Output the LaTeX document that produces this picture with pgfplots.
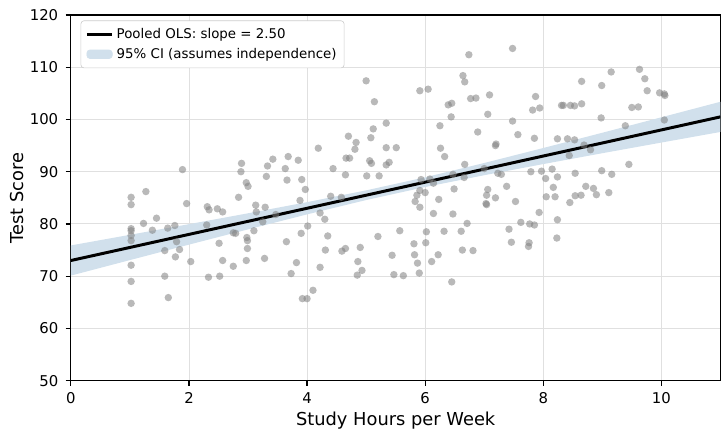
\documentclass[border=0pt]{standalone}
\usepackage{fontspec}
\setmainfont{DejaVu Sans}
\usepackage{pgfplots}
\pgfplotsset{compat=1.18}
\definecolor{cifill}{RGB}{209,224,236}
\begin{document}
\begin{tikzpicture}
\begin{axis}[
  scale only axis, width=437pt, height=246pt,
  xmin=0, xmax=11, ymin=50, ymax=120,
  xtick={0,2,...,10}, ytick={50,60,...,120},
  tick align=outside, tick pos=left,
  major tick length=3.5pt,
  grid=major, major grid style={draw=black!12, line width=0.6pt},
  axis line style={line width=0.8pt},
  every tick/.style={black, line width=0.8pt},
  tick label style={font=\fontsize{10}{12}\selectfont},
  yticklabel style={xshift=-1.5pt},
  xticklabel style={yshift=-1pt},
  /pgf/number format/assume math mode=true,
  label style={font=\fontsize{12}{14}\selectfont},
  xlabel={Study Hours per Week}, ylabel={Test Score},
  xlabel style={yshift=1.5pt},
  ylabel style={yshift=-2.8pt},
  legend style={at={(0.015,0.985)}, anchor=north west, draw=black!20,
    rounded corners=2pt, font=\fontsize{9}{11}\selectfont,
    row sep=1pt, inner sep=3pt},
  legend cell align=left,
]
\coordinate (tl) at (rel axis cs:0,1);
% 95% CI band
\addplot[fill=cifill, draw=none, forget plot] coordinates {
  (0,70.11) (1,73.08) (2,76.04) (3,78.96) (4,81.83) (5,84.57) (6,87.07)
  (7,89.33) (8,91.46) (9,93.54) (10,95.58) (11,97.61)
  (11,103.39) (10,100.42) (9,97.46) (8,94.54) (7,91.67) (6,88.93) (5,86.43)
  (4,84.17) (3,82.04) (2,79.96) (1,77.92) (0,75.89)
} -- cycle;
% observations
\addplot[only marks, mark=*, mark size=2.5pt, forget plot,
  mark options={draw opacity=0, fill=gray, fill opacity=0.55}] coordinates {
  (1.02,85.1) (1.02,83.7) (1.02,79.1) (1.02,78.7) (1.02,77.8) (1.02,76.8)
  (1.02,72.1) (1.02,69.0) (1.02,64.8)
  (1.27,86.2) (1.23,80.1) (1.38,78.8) (1.45,81.1) (1.64,79.2) (1.76,79.7)
  (1.79,76.6) (1.89,90.4) (1.96,83.9) (2.30,79.8) (2.31,83.3) (2.34,82.7)
  (2.48,82.9) (2.57,82.3) (2.75,78.3) (2.51,76.3)
  (1.59,74.9) (1.59,70.0) (1.65,65.9) (1.77,73.7) (1.84,75.1) (2.03,72.8)
  (2.33,69.8) (2.52,70.0) (2.57,73.0) (2.75,71.9)
  (2.99,75.3) (2.97,73.0) (3.28,73.4) (3.82,72.6) (3.73,70.5) (4.22,71.7)
  (4.31,75.0) (4.59,74.8) (4.65,75.3) (4.90,75.5) (4.86,72.8) (4.93,71.1)
  (4.85,70.2) (5.44,74.0) (5.47,70.3) (3.92,65.7) (4.00,65.7) (4.10,67.3)
  (4.19,94.5) (4.81,94.3) (4.83,95.6) (5.34,94.6) (5.51,94.6) (2.89,91.6)
  (2.88,90.0) (3.42,92.4) (3.33,91.1) (3.68,92.9) (3.85,92.2) (3.63,90.6)
  (3.31,89.1) (3.66,88.4) (3.91,88.5) (3.97,86.6) (2.97,87.9) (3.00,87.2)
  (2.84,85.1) (3.13,83.6) (3.29,83.2) (3.14,82.3) (3.47,81.8) (3.25,80.4)
  (3.88,84.5) (4.44,90.6) (4.66,92.6) (4.72,92.6) (5.06,92.1) (5.09,91.6)
  (5.34,91.3) (5.39,91.8) (4.65,89.4) (5.01,89.2) (5.22,89.2) (4.40,85.3)
  (4.58,85.1) (4.22,82.1) (4.30,80.9) (4.01,79.6) (3.90,78.2) (4.35,77.7)
  (5.20,77.6) (3.65,76.6) (2.98,77.4) (2.99,76.8) (3.10,78.7) (2.79,78.2)
  (5.57,78.7)
  (5.00,107.4) (5.14,103.4) (5.34,99.3) (5.12,98.2) (4.70,96.8) (5.08,96.5)
  (6.74,112.4) (7.48,113.6) (6.64,108.4) (6.67,107.2) (5.91,105.5) (6.05,105.8)
  (6.39,102.8) (6.45,103.1) (6.77,104.0) (6.86,104.1) (7.09,104.7) (7.87,104.4)
  (7.82,101.8) (7.94,102.2) (8.31,102.7) (6.44,100.5) (7.06,101.0) (6.25,98.8)
  (7.48,99.7) (6.89,97.6) (7.57,97.1) (7.85,96.4) (7.20,95.3) (8.24,96.3)
  (8.65,107.3) (9.15,109.1) (9.63,109.6) (8.99,106.5) (9.72,107.8) (9.76,105.5)
  (9.97,105.1) (10.05,104.9) (10.06,104.6) (8.34,102.7) (8.46,102.7) (8.53,102.6)
  (8.65,103.0) (9.50,102.3) (9.61,102.4) (8.98,100.3) (9.39,98.8) (10.05,99.9)
  (8.41,96.3) (8.53,96.1) (8.69,95.1)
  (8.44,93.1) (8.80,94.2) (8.54,89.7) (8.99,90.2) (9.16,89.5) (9.45,91.4)
  (8.72,87.2) (8.85,86.8) (8.90,85.6) (9.11,86.0) (8.54,85.4) (8.64,85.5)
  (8.45,84.1)
  (6.26,94.5) (6.33,92.9) (7.19,95.0) (6.67,91.4) (5.93,88.5) (6.08,88.6)
  (6.14,87.8) (6.47,89.5) (6.66,88.9) (7.00,90.6) (7.23,89.7) (7.29,89.5)
  (7.79,90.0) (7.97,90.1) (8.15,90.5) (8.04,88.7) (8.24,89.0) (8.17,87.0)
  (5.91,86.4) (6.00,86.0) (5.86,85.5) (6.49,86.7) (7.06,86.6) (7.04,85.5)
  (7.38,87.2) (7.19,85.0) (5.83,84.3) (6.23,84.7) (7.03,83.9) (7.04,83.7)
  (5.91,83.2) (7.53,84.3) (8.05,85.2) (8.20,85.2) (6.14,82.0) (6.47,81.9)
  (7.93,82.2) (8.24,80.8) (6.71,80.1) (7.62,80.3) (7.77,80.0) (7.85,79.8)
  (6.02,78.5) (6.32,78.6) (6.61,78.6) (7.42,79.0) (8.23,77.3) (5.81,76.2)
  (6.01,76.4) (7.46,76.5) (7.76,76.4)
  (6.63,75.0) (6.81,74.9) (7.75,75.7) (5.82,74.1) (6.22,74.1) (5.87,72.5)
  (6.11,72.8) (5.90,70.6) (5.63,70.1) (6.45,68.9)
};
% regression line
\addplot[black, line width=2pt,
  legend image code/.code={\draw[black, line width=2pt] (0cm,0cm) -- (0.6cm,0cm);}]
  coordinates {(0,73.0) (11,100.5)};
\addlegendentry{Pooled OLS: slope = 2.50}
\addlegendimage{area legend, fill=cifill, draw=cifill}
\addlegendentry{95\% CI (assumes independence)}
\end{axis}
% margins round the plot, as in the reference
\path (tl) ++(-47.7pt,10.1pt);
\end{tikzpicture}
\end{document}
